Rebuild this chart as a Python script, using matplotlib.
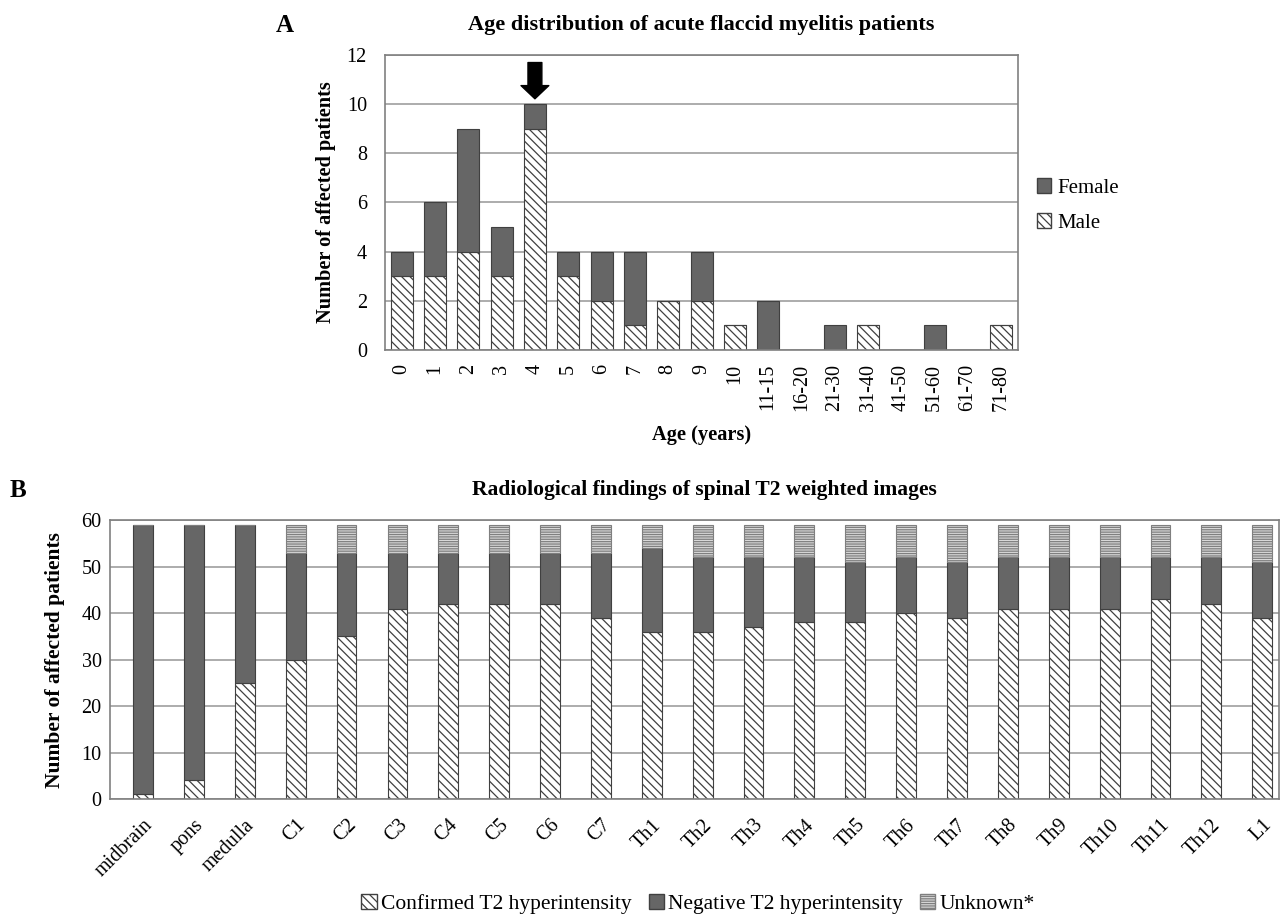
import matplotlib
matplotlib.use("Agg")
import matplotlib.pyplot as plt
import numpy as np
from matplotlib.patches import Patch

plt.rcParams['font.family'] = ['Liberation Serif', 'DejaVu Serif']
plt.rcParams['hatch.linewidth'] = 0.9

# ---------------- Panel A data ----------------
age_groups = ['0', '1', '2', '3', '4', '5', '6', '7', '8', '9', '10', '11-15', '16-20',
              '21-30', '31-40', '41-50', '51-60', '61-70', '71-80']
male = [3, 3, 4, 3, 9, 3, 2, 1, 2, 2, 1, 0, 0, 0, 1, 0, 0, 0, 1]
female = [1, 3, 5, 2, 1, 1, 2, 3, 0, 2, 0, 2, 0, 1, 0, 0, 1, 0, 0]
arrow_group = '4'

# ---------------- Panel B data ----------------
levels = ['midbrain', 'pons', 'medulla', 'C1', 'C2', 'C3', 'C4', 'C5', 'C6', 'C7',
          'Th1', 'Th2', 'Th3', 'Th4', 'Th5', 'Th6', 'Th7', 'Th8', 'Th9', 'Th10',
          'Th11', 'Th12', 'L1']
confirmed = [1, 4, 25, 30, 35, 41, 42, 42, 42, 39, 36, 36, 37, 38, 38, 40, 39, 41, 41, 41, 43, 42, 39]
negative = [58, 55, 34, 23, 18, 12, 11, 11, 11, 14, 18, 16, 15, 14, 13, 12, 12, 11, 11, 11, 9, 10, 12]
unknown = [0, 0, 0, 6, 6, 6, 6, 6, 6, 6, 5, 7, 7, 7, 8, 7, 8, 7, 7, 7, 7, 7, 8]

DARK = '#666666'
EDGE = '#404040'
GRID = '#a6a6a6'
LIGHT = '#d9d9d9'
HATCH_D = '\\\\\\\\'
HATCH_H = '-------'

fig = plt.figure(figsize=(12.82, 9.14), dpi=100)

def style_axes(ax):
    for s in ax.spines.values():
        s.set_color('#808080')
        s.set_linewidth(1.2)
    ax.yaxis.grid(True, color=GRID, linewidth=1.3)
    ax.set_axisbelow(True)
    ax.tick_params(length=0, labelsize=14.5)

# ---------------- Panel A ----------------
axA = fig.add_axes([0.3003, 0.617, 0.4938, 0.323])
xa = np.arange(len(age_groups))
axA.bar(xa, male, width=0.66, color='white', edgecolor=EDGE, hatch=HATCH_D, linewidth=0.8)
axA.bar(xa, female, width=0.66, bottom=male, color=DARK, edgecolor=EDGE, linewidth=0.8)
axA.set_xlim(-0.5, len(age_groups) - 0.5)
axA.set_ylim(0, 12)
axA.set_yticks(np.arange(0, 13, 2))
axA.set_xticks(xa)
axA.set_xticklabels(age_groups, rotation=90)
style_axes(axA)
axA.tick_params(axis='y', pad=13)
axA.tick_params(axis='x', pad=10)
axA.set_ylabel('Number of affected patients', fontsize=14.6, fontweight='bold', labelpad=8)
axA.set_xlabel('Age (years)', fontsize=14.7, fontweight='bold', labelpad=10)
axA.set_title('Age distribution of acute flaccid myelitis patients', fontsize=16,
              fontweight='bold', pad=18)
ia = age_groups.index(arrow_group)
tot = male[ia] + female[ia]
axA.annotate('', xy=(ia, tot + 0.1), xytext=(ia, tot + 1.8),
             arrowprops=dict(arrowstyle='simple,head_width=2.0,head_length=0.95,tail_width=1.0',
                             color='black'))
axA.legend(handles=[Patch(facecolor=DARK, edgecolor=EDGE, label='Female'),
                    Patch(facecolor='white', edgecolor=EDGE, hatch=HATCH_D, label='Male')],
           loc='center left', bbox_to_anchor=(1.0, 0.49), frameon=False, fontsize=15,
           handlelength=0.7, handleheight=0.7, handletextpad=0.3, labelspacing=0.75)
fig.text(0.222, 0.972, 'A', fontsize=18, fontweight='bold', ha='center', va='center')

# ---------------- Panel B ----------------
axB = fig.add_axes([0.0858, 0.1258, 0.9119, 0.305])
xb = np.arange(len(levels))
bot2 = np.array(confirmed) + np.array(negative)
axB.bar(xb, confirmed, width=0.39, color='white', edgecolor=EDGE, hatch=HATCH_D, linewidth=0.8)
axB.bar(xb, negative, width=0.39, bottom=confirmed, color=DARK, edgecolor=EDGE, linewidth=0.8)
axB.bar(xb, unknown, width=0.39, bottom=bot2, color=LIGHT, edgecolor='#7f7f7f',
        hatch=HATCH_H, linewidth=0.8)
axB.set_xlim(-0.65, len(levels) - 0.67)
axB.set_ylim(0, 60)
axB.set_yticks(np.arange(0, 61, 10))
axB.set_xticks(xb)
axB.set_xticklabels(levels, rotation=45, ha='right', rotation_mode='anchor')
style_axes(axB)
axB.tick_params(axis='y', pad=6)
axB.tick_params(axis='x', pad=12)
axB.set_ylabel('Number of affected patients', fontsize=15.5, fontweight='bold', labelpad=12)
axB.set_title('Radiological findings of spinal T2 weighted images', fontsize=15.5,
              fontweight='bold', pad=18, x=0.508)
axB.legend(handles=[Patch(facecolor='white', edgecolor=EDGE, hatch=HATCH_D, label='Confirmed T2 hyperintensity'),
                    Patch(facecolor=DARK, edgecolor=EDGE, label='Negative T2 hyperintensity'),
                    Patch(facecolor=LIGHT, edgecolor='#7f7f7f', hatch=HATCH_H, label='Unknown*')],
           loc='center', bbox_to_anchor=(0.503, -0.375), ncol=3, frameon=False, fontsize=15.5,
           handlelength=0.7, handleheight=0.7, handletextpad=0.2, columnspacing=0.8)
fig.text(0.014, 0.463, 'B', fontsize=18, fontweight='bold', ha='center', va='center')

fig.savefig('out.png', dpi=100)
